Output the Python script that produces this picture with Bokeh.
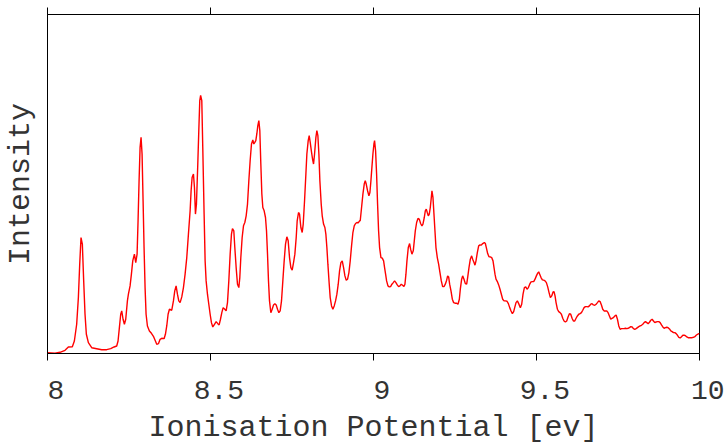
from bokeh.plotting import figure
from bokeh.models import Range1d, LinearAxis, FixedTicker
from bokeh.embed import file_html
from bokeh.resources import INLINE

# Photoelectron spectrum: ionisation potential (eV) vs. relative intensity (arb. units)
energy = [
    8.0000, 8.0230, 8.0384, 8.0537, 8.0640, 8.0762, 8.0824, 8.0895, 8.0947, 8.0988,
    8.1028, 8.1069, 8.1110, 8.1151, 8.1192, 8.1254, 8.1356, 8.1509, 8.1663, 8.1816,
    8.1939, 8.2042, 8.2123, 8.2164, 8.2205, 8.2246, 8.2277, 8.2318, 8.2359, 8.2400,
    8.2451, 8.2482, 8.2533, 8.2574, 8.2615, 8.2666, 8.2707, 8.2748, 8.2778, 8.2809,
    8.2840, 8.2870, 8.2901, 8.2932, 8.2962, 8.2993, 8.3024, 8.3065, 8.3126, 8.3188,
    8.3249, 8.3310, 8.3351, 8.3403, 8.3454, 8.3505, 8.3576, 8.3617, 8.3658, 8.3699,
    8.3740, 8.3812, 8.3863, 8.3904, 8.3945, 8.3986, 8.4027, 8.4068, 8.4119, 8.4170,
    8.4221, 8.4272, 8.4323, 8.4375, 8.4405, 8.4436, 8.4477, 8.4508, 8.4538, 8.4569,
    8.4610, 8.4641, 8.4671, 8.4697,
    8.4733, 8.4763, 8.4804, 8.4835, 8.4866, 8.4907, 8.4948, 8.4989, 8.5029, 8.5070,
    8.5122, 8.5173, 8.5224, 8.5265, 8.5306, 8.5347, 8.5388, 8.5439, 8.5480, 8.5521,
    8.5562, 8.5603, 8.5643, 8.5674, 8.5715, 8.5746, 8.5787, 8.5828, 8.5869, 8.5899,
    8.5930, 8.5971, 8.6012, 8.6053, 8.6094, 8.6135, 8.6176, 8.6216, 8.6257, 8.6298,
    8.6329, 8.6360, 8.6390, 8.6421, 8.6452, 8.6483, 8.6513, 8.6544, 8.6575, 8.6605,
    8.6646, 8.6687, 8.6718, 8.6749, 8.6779, 8.6810, 8.6851, 8.6892, 8.6933, 8.6974,
    8.7015, 8.7056, 8.7097, 8.7137, 8.7178, 8.7219, 8.7260, 8.7301, 8.7342, 8.7383,
    8.7424, 8.7465, 8.7506, 8.7547, 8.7588, 8.7629, 8.7659, 8.7700, 8.7731, 8.7772,
    8.7813, 8.7844, 8.7885, 8.7926, 8.7956, 8.7997, 8.8028, 8.8059, 8.8100, 8.8130,
    8.8161, 8.8192, 8.8233, 8.8263, 8.8294, 8.8325, 8.8355, 8.8396, 8.8427, 8.8468,
    8.8509, 8.8539, 8.8570, 8.8601, 8.8642, 8.8672, 8.8713, 8.8754, 8.8795, 8.8836,
    8.8877, 8.8918, 8.8959, 8.9000, 8.9041, 8.9082, 8.9123, 8.9164, 8.9205, 8.9246,
    8.9286, 8.9327, 8.9368, 8.9409, 8.9450, 8.9491, 8.9532, 8.9573,
    8.9593, 8.9634, 8.9675, 8.9716, 8.9747, 8.9777, 8.9818, 8.9859, 8.9890, 8.9921,
    8.9951, 8.9982, 9.0013, 9.0033, 9.0064, 9.0095, 9.0125, 9.0156, 9.0187, 9.0228,
    9.0269, 9.0310, 9.0340, 9.0371, 9.0402, 9.0443, 9.0484, 9.0524, 9.0565, 9.0606,
    9.0647, 9.0688, 9.0729, 9.0770, 9.0811, 9.0852, 9.0893, 9.0934, 9.0964, 9.0995,
    9.1026, 9.1067, 9.1108, 9.1138, 9.1179, 9.1220, 9.1251, 9.1282, 9.1323, 9.1364,
    9.1405, 9.1445, 9.1486, 9.1517, 9.1558, 9.1589, 9.1619, 9.1650, 9.1681, 9.1711,
    9.1742, 9.1773, 9.1793, 9.1824, 9.1855, 9.1885, 9.1916, 9.1957, 9.1998, 9.2039,
    9.2080, 9.2121, 9.2162, 9.2203, 9.2244, 9.2274, 9.2305, 9.2336, 9.2377, 9.2418,
    9.2459, 9.2500, 9.2551, 9.2592, 9.2633, 9.2663, 9.2704, 9.2735, 9.2776, 9.2817,
    9.2858, 9.2888, 9.2929, 9.2970, 9.3011, 9.3042, 9.3083, 9.3113, 9.3144, 9.3185,
    9.3226, 9.3267, 9.3308, 9.3349, 9.3400, 9.3431, 9.3461, 9.3502, 9.3543, 9.3584,
    9.3625, 9.3666, 9.3697, 9.3727, 9.3758, 9.3799, 9.3840, 9.3881, 9.3922, 9.3963,
    9.4004, 9.4045, 9.4096, 9.4137, 9.4178, 9.4219, 9.4260, 9.4300, 9.4331, 9.4372,
    9.4413, 9.4454, 9.4495,
    9.4505, 9.4546, 9.4587, 9.4628, 9.4669, 9.4710, 9.4751, 9.4792, 9.4832, 9.4873,
    9.4914, 9.4955, 9.4996, 9.5037, 9.5068, 9.5098, 9.5139, 9.5180, 9.5221, 9.5262,
    9.5303, 9.5344, 9.5385, 9.5426, 9.5467, 9.5508, 9.5538, 9.5569, 9.5600, 9.5641,
    9.5682, 9.5723, 9.5764, 9.5805, 9.5845, 9.5886, 9.5927, 9.5968, 9.6009, 9.6050,
    9.6091, 9.6132, 9.6173, 9.6214, 9.6255, 9.6296, 9.6337, 9.6378, 9.6419, 9.6459,
    9.6500, 9.6541, 9.6582, 9.6623, 9.6664, 9.6705, 9.6746, 9.6787, 9.6828, 9.6869,
    9.6910, 9.6951, 9.6992, 9.7032, 9.7073, 9.7114, 9.7155, 9.7196, 9.7237, 9.7278,
    9.7319, 9.7360, 9.7401, 9.7442, 9.7483, 9.7524, 9.7565, 9.7606, 9.7646, 9.7687,
    9.7728, 9.7769, 9.7810, 9.7851, 9.7892, 9.7933, 9.7974, 9.8015, 9.8056, 9.8097,
    9.8138, 9.8179, 9.8220, 9.8260, 9.8301, 9.8342, 9.8383, 9.8424, 9.8465, 9.8506,
    9.8547, 9.8588, 9.8629, 9.8670, 9.8711, 9.8752, 9.8793, 9.8834, 9.8875, 9.8915,
    9.8956, 9.8997, 9.9038, 9.9079, 9.9120, 9.9161, 9.9202, 9.9243, 9.9284, 9.9325,
    9.9366, 9.9407, 9.9448, 9.9489, 9.9530, 9.9570, 9.9611, 9.9652, 9.9693, 9.9734,
    9.9775, 9.9816, 9.9857, 9.9898, 9.9939, 9.9980, 10.0000,
]

intensity = [
    0.8, 0.2, 1.2, 3.2, 6.5, 6.8, 12.5, 29.2, 55.8, 89.2,
    115.8, 109.2, 72.5, 39.2, 19.2, 10.8, 5.8, 4.8, 3.8, 3.8,
    4.8, 6.5, 7.5, 12.5, 25.8, 39.2, 42.5, 34.2, 29.2, 34.2,
    52.5, 59.2, 67.5, 79.2, 92.5, 99.2, 90.8, 99.2, 132.5, 172.5,
    205.8, 215.8, 199.2, 152.5, 105.8, 65.8, 39.2, 27.5, 22.5, 20.2,
    17.2, 12.5, 9.2, 9.8, 14.2, 15.2, 14.8, 19.2, 27.5, 39.2,
    44.2, 43.2, 52.5, 62.5, 67.5, 59.2, 52.5, 50.8, 56.5, 65.8,
    79.2, 95.8, 119.2, 142.5, 162.5, 175.8, 179.2, 165.8, 139.2, 149.2,
    189.2, 222.5, 252.5, 257.8,
    252.5, 205.8, 139.2, 92.5, 72.5, 59.2, 49.2, 39.2, 30.8, 26.5,
    29.2, 31.8, 29.8, 28.5, 34.2, 40.8, 45.8, 44.2, 42.5, 50.8,
    72.5, 99.2, 119.2, 124.8, 122.5, 105.8, 85.8, 69.2, 65.8, 75.8,
    95.8, 115.8, 127.5, 130.8, 137.5, 149.2, 172.5, 192.5, 209.2, 213.2,
    209.2, 210.8, 212.5, 219.2, 227.5, 232.5, 222.5, 189.2, 159.2, 145.8,
    142.5, 135.8, 122.5, 99.2, 72.5, 52.5, 40.8, 44.2, 48.5, 49.8,
    48.5, 44.2, 40.8, 42.5, 52.5, 72.5, 92.5, 109.2, 116.5, 112.5,
    95.8, 85.8, 83.2, 90.8, 99.2, 115.8, 132.5, 140.8, 139.2, 125.8,
    120.8, 129.2, 152.5, 179.2, 199.2, 212.5, 217.5, 210.8, 200.8, 194.2,
    189.2, 199.2, 215.8, 222.5, 217.5, 199.2, 172.5, 149.2, 137.5, 129.2,
    125.8, 119.2, 105.8, 89.2, 69.2, 55.8, 47.5, 44.2, 47.5, 52.5,
    59.2, 69.2, 82.5, 90.8, 92.5, 85.8, 77.5, 73.2, 74.2, 80.8,
    92.5, 107.5, 120.8, 127.5, 129.8, 130.8, 130.5, 132.5,
    132.5, 145.8, 159.2, 169.2, 172.5, 169.2, 162.5, 157.5, 160.8, 172.5,
    185.8, 199.2, 209.2, 212.5, 202.5, 179.2, 149.2, 122.5, 105.8, 95.8,
    95.2, 92.5, 85.8, 79.2, 72.5, 67.5, 66.5, 66.8, 69.2, 70.8,
    72.5, 70.8, 68.5, 66.8, 67.5, 69.2, 68.2, 66.8, 69.2, 79.2,
    92.5, 105.8, 109.8, 104.2, 99.2, 102.5, 112.5, 122.5, 130.8, 134.8,
    134.2, 129.8, 127.5, 129.2, 135.8, 142.5, 144.2, 140.8, 137.5, 139.2,
    145.8, 155.8, 162.5, 155.8, 139.2, 122.5, 105.8, 95.8, 89.2, 80.8,
    72.5, 66.8, 66.8, 69.2, 73.2, 77.5, 76.5, 69.2, 62.5, 54.2,
    50.8, 50.2, 50.2, 49.2, 54.2, 64.2, 74.2, 77.5, 74.2, 69.8,
    69.2, 75.8, 85.8, 94.2, 97.5, 94.2, 90.8, 88.2, 92.5, 100.8,
    107.5, 108.5, 108.2, 109.8, 110.8, 109.8, 105.8, 99.8, 96.5, 96.5,
    95.8, 92.5, 85.8, 79.2, 74.2, 71.8, 68.5, 64.2, 59.2, 54.2,
    52.5, 52.5, 52.2, 49.8, 45.8, 42.5, 39.8, 41.8, 45.8, 50.8,
    52.5, 49.8, 46.5,
    45.8, 49.2, 59.2, 65.8, 66.5, 64.2, 65.8, 69.2, 71.5, 71.8,
    71.8, 74.2, 77.5, 80.2, 81.5, 79.2, 75.8, 73.5, 73.2, 72.5,
    70.8, 66.5, 60.8, 55.8, 57.5, 61.5, 61.8, 57.5, 50.8, 44.2,
    41.8, 40.8, 39.2, 35.2, 32.5, 31.5, 32.5, 36.5, 39.8, 39.2,
    35.2, 32.5, 32.5, 35.2, 37.5, 39.2, 39.8, 40.8, 43.2, 45.8,
    46.8, 46.8, 46.5, 47.5, 49.2, 49.8, 48.5, 48.2, 49.2, 50.8,
    52.5, 51.8, 48.5, 44.2, 42.5, 42.5, 42.5, 40.8, 37.5, 34.2,
    35.2, 35.8, 37.5, 38.5, 34.2, 27.5, 24.2, 24.8, 24.8, 24.8,
    25.2, 24.8, 25.2, 25.8, 26.8, 26.5, 24.8, 24.2, 24.8, 25.8,
    26.8, 27.5, 28.2, 29.2, 30.8, 31.8, 30.8, 29.8, 31.2, 33.2,
    34.2, 32.5, 30.8, 31.5, 31.8, 31.8, 30.8, 28.5, 26.5, 25.2,
    25.8, 26.2, 25.8, 24.5, 22.5, 21.8, 20.8, 20.8, 19.8, 18.2,
    16.2, 15.5, 16.8, 18.2, 18.2, 17.8, 16.5, 15.8, 15.8, 15.8,
    15.8, 16.2, 16.8, 18.2, 19.2, 19.8, 19.8,
]

x_ticks = [8, 8.5, 9, 9.5, 10]
# a leading no-break space nudges each label half a character to the right
x_tick_labels = {8: "\u00a08", 8.5: "\u00a08.5", 9: "\u00a09", 9.5: "\u00a09.5", 10: "\u00a010"}
x_title = "Ionisation Potential [ev]"
y_title = "Intensity"

FONT = "Liberation Mono"
TEXT_COLOR = "#333333"

p = figure(
    width=724, height=448,
    output_backend="svg", toolbar_location=None,
    x_range=Range1d(8, 10), y_range=Range1d(0, 338.5),
    x_axis_label=x_title, y_axis_label=y_title,
    min_border_left=47, min_border_right=25,
    min_border_top=14, min_border_bottom=95,
    background_fill_color="white", border_fill_color="white",
)

p.line(energy, intensity, line_color="#ff0000", line_width=1.4)

p.grid.visible = False
p.outline_line_color = "black"
p.outline_line_width = 1
p.outline_line_alpha = 1

# bottom axis: outward ticks every 0.5 eV, title underneath
xa = p.xaxis[0]
xa.ticker = FixedTicker(ticks=x_ticks)
xa.major_label_overrides = x_tick_labels
xa.major_tick_out = 7
xa.major_tick_in = 0
xa.minor_tick_out = 0
xa.minor_tick_in = 0
xa.axis_line_color = "black"
xa.major_tick_line_color = "black"
xa.major_label_text_font = FONT
xa.major_label_text_font_size = "28px"
xa.major_label_text_color = TEXT_COLOR
xa.major_label_standoff = 15
xa.axis_label_text_font = FONT
xa.axis_label_text_font_size = "30px"
xa.axis_label_text_font_style = "normal"
xa.axis_label_text_color = TEXT_COLOR
xa.axis_label_standoff = 1

# left axis: title only
ya = p.yaxis[0]
ya.ticker = FixedTicker(ticks=[])
ya.major_tick_out = 0
ya.major_tick_in = 0
ya.minor_tick_out = 0
ya.minor_tick_in = 0
ya.major_label_text_font_size = "0px"
ya.major_label_standoff = 0
ya.axis_line_color = "black"
ya.axis_label_text_font = FONT
ya.axis_label_text_font_size = "30px"
ya.axis_label_text_font_style = "normal"
ya.axis_label_text_color = TEXT_COLOR
ya.axis_label_standoff = 10

# top axis: mirrored outward ticks, no labels
top = LinearAxis(ticker=FixedTicker(ticks=x_ticks))
top.major_tick_out = 7
top.major_tick_in = 0
top.minor_tick_out = 0
top.minor_tick_in = 0
top.major_label_text_font_size = "0px"
top.major_label_standoff = 0
top.axis_line_color = "black"
top.major_tick_line_color = "black"
p.add_layout(top, "above")

open("out.html", "w").write(file_html(p, INLINE))
